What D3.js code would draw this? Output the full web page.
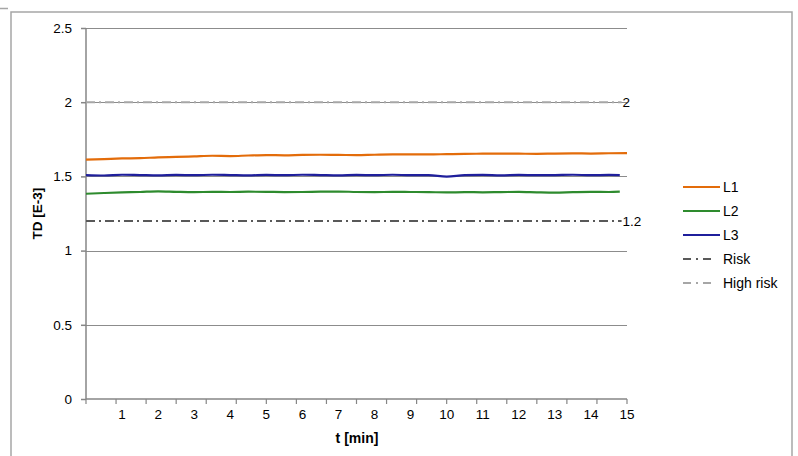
<!DOCTYPE html>
<html>
<head>
<meta charset="utf-8">
<script src="https://cdn.jsdelivr.net/npm/d3@7"></script>
<style>
  body { margin: 0; background: #fff; }
  svg text { font-family: "Liberation Sans", Arial, sans-serif; }
</style>
</head>
<body>
<svg></svg>
<script>
// time in minutes, one point every 30 s
const minutes = [0, 0.5, 1, 1.5, 2, 2.5, 3, 3.5, 4, 4.5, 5, 5.5, 6, 6.5, 7, 7.5,
  8, 8.5, 9, 9.5, 10, 10.5, 11, 11.5, 12, 12.5, 13, 13.5, 14, 14.5, 15]
const minutesShort = [0, 0.5, 1, 1.5, 2, 2.5, 3, 3.5, 4, 4.5, 5, 5.5, 6, 6.5, 7, 7.5,
  8, 8.5, 9, 9.5, 10, 10.5, 11, 11.5, 12, 12.5, 13, 13.5, 14, 14.5, 14.8]

const l1 = [1.613, 1.617, 1.621, 1.623, 1.628, 1.631, 1.635, 1.639, 1.637, 1.641, 1.644,
  1.642, 1.645, 1.646, 1.645, 1.643, 1.646, 1.648, 1.649, 1.648, 1.650, 1.652, 1.653,
  1.654, 1.653, 1.652, 1.654, 1.655, 1.654, 1.656, 1.657]
const l2 = [1.383, 1.388, 1.392, 1.395, 1.399, 1.396, 1.394, 1.396, 1.395, 1.397, 1.396,
  1.394, 1.395, 1.397, 1.398, 1.395, 1.394, 1.396, 1.395, 1.394, 1.392, 1.394, 1.393,
  1.394, 1.396, 1.393, 1.391, 1.394, 1.396, 1.395, 1.397]
const l3 = [1.509, 1.506, 1.511, 1.509, 1.507, 1.510, 1.508, 1.511, 1.509, 1.507, 1.510,
  1.508, 1.511, 1.509, 1.507, 1.510, 1.508, 1.511, 1.508, 1.509, 1.498, 1.508, 1.510,
  1.507, 1.510, 1.508, 1.509, 1.511, 1.508, 1.510, 1.509]

const riskLevel = 1.2
const highRiskLevel = 2
const yTicks = [0, 0.5, 1, 1.5, 2, 2.5]
const xLabels = [1, 2, 3, 4, 5, 6, 7, 8, 9, 10, 11, 12, 13, 14, 15]
// axis tick marks every 50 s
const xTickMarks = d3.range(0, 901, 50).map(s => s / 60)

const series = [
  { name: 'L1', t: minutes, v: l1, color: '#e36c0a' },
  { name: 'L2', t: minutesShort, v: l2, color: '#2e8b2e' },
  { name: 'L3', t: minutesShort, v: l3, color: '#1f1f9c' },
]

const svg = d3.select('svg')
  .attr('width', 798)
  .attr('height', 456)

const x = d3.scaleLinear().domain([0, 15]).range([86, 627])
const y = d3.scaleLinear().domain([0, 2.5]).range([399, 28])

// outer frame
svg.append('rect')
  .attr('x', 11).attr('y', 12)
  .attr('width', 781).attr('height', 460)
  .attr('fill', 'none')
  .attr('stroke', '#a6a6a6')
  .attr('stroke-width', 1.5)
svg.append('line')
  .attr('x1', 0).attr('x2', 8).attr('y1', 8.5).attr('y2', 8.5)
  .attr('stroke', '#a6a6a6').attr('stroke-width', 1.5)

// gridlines
svg.append('g')
  .selectAll('line')
  .data(yTicks.filter(d => d > 0))
  .enter()
  .append('line')
  .attr('x1', x(0)).attr('x2', x(15))
  .attr('y1', d => Math.round(y(d)) + 0.5)
  .attr('y2', d => Math.round(y(d)) + 0.5)
  .attr('stroke', '#8c8c8c')
  .attr('stroke-width', 1)

// y axis
const yAxis = svg.append('g')
  .attr('transform', `translate(${x(0)},0)`)
  .call(d3.axisLeft(y).tickValues(yTicks).tickSize(5).tickPadding(9)
    .tickFormat(d3.format('')))
yAxis.selectAll('line, path').attr('stroke', '#868686').attr('stroke-width', 1.5)
yAxis.select('.domain').attr('d', `M0,${y(2.5)}V${y(0)}`)
yAxis.selectAll('text')
  .attr('font-size', 13.5)
  .attr('fill', '#000')
  .style('font-family', '"Liberation Sans", Arial, sans-serif')

// x axis: tick marks and labels separately
const xAxis = svg.append('g')
  .attr('transform', `translate(0,${y(0)})`)
xAxis.append('line')
  .attr('x1', x(0)).attr('x2', x(15))
  .attr('stroke', '#868686').attr('stroke-width', 1.5)
xAxis.selectAll('.tm')
  .data(xTickMarks)
  .enter()
  .append('line')
  .attr('class', 'tm')
  .attr('x1', d => x(d)).attr('x2', d => x(d))
  .attr('y1', 0).attr('y2', 5)
  .attr('stroke', '#868686').attr('stroke-width', 1.2)
xAxis.selectAll('text')
  .data(xLabels)
  .enter()
  .append('text')
  .attr('x', d => x(d))
  .attr('y', 20)
  .attr('text-anchor', 'middle')
  .attr('font-size', 13.5)
  .text(d => d)

// axis titles
svg.append('text')
  .attr('transform', `translate(42,${y(1.25)}) rotate(-90)`)
  .attr('text-anchor', 'middle')
  .attr('font-size', 13.5)
  .attr('font-weight', 'bold')
  .text('TD [E-3]')
svg.append('text')
  .attr('x', 357).attr('y', 443)
  .attr('text-anchor', 'middle')
  .attr('font-size', 14)
  .attr('font-weight', 'bold')
  .text('t [min]')

// threshold lines
const dashDot = '9,4,2,4'
const thresholds = [
  { name: 'Risk', v: riskLevel, color: '#595959', label: '1.2' },
  { name: 'High risk', v: highRiskLevel, color: '#a6a6a6', label: '2' },
]
svg.append('g')
  .selectAll('line')
  .data(thresholds)
  .enter()
  .append('line')
  .attr('x1', x(0)).attr('x2', x(14.85))
  .attr('y1', d => y(d.v)).attr('y2', d => y(d.v))
  .attr('stroke', d => d.color)
  .attr('stroke-width', 2)
  .attr('stroke-dasharray', dashDot)
svg.append('g')
  .selectAll('text')
  .data(thresholds)
  .enter()
  .append('text')
  .attr('x', x(14.85) + 1)
  .attr('y', d => y(d.v) + 5)
  .attr('font-size', 13.5)
  .text(d => d.label)

// data lines
const line = d3.line()
  .x(d => x(d[0]))
  .y(d => y(d[1]))
  .curve(d3.curveMonotoneX)
svg.append('g')
  .selectAll('path')
  .data(series)
  .enter()
  .append('path')
  .attr('d', s => line(s.t.map((t, i) => [t, s.v[i]])))
  .attr('fill', 'none')
  .attr('stroke', s => s.color)
  .attr('stroke-width', 2.2)

// legend
const legendItems = [
  ...series.map(s => ({ name: s.name, color: s.color, dash: null })),
  ...thresholds.map(t => ({ name: t.name, color: t.color, dash: '8,5,2,5' })),
]
const legend = svg.append('g')
  .selectAll('g')
  .data(legendItems)
  .enter()
  .append('g')
  .attr('transform', (d, i) => `translate(683,${187 + i * 24})`)
legend.append('line')
  .attr('x1', 0).attr('x2', d => d.dash ? 28 : 37)
  .attr('stroke', d => d.color)
  .attr('stroke-width', 2)
  .attr('stroke-dasharray', d => d.dash)
legend.append('text')
  .attr('x', 40)
  .attr('y', 5)
  .attr('font-size', 14)
  .text(d => d.name)
</script>
</body>
</html>
